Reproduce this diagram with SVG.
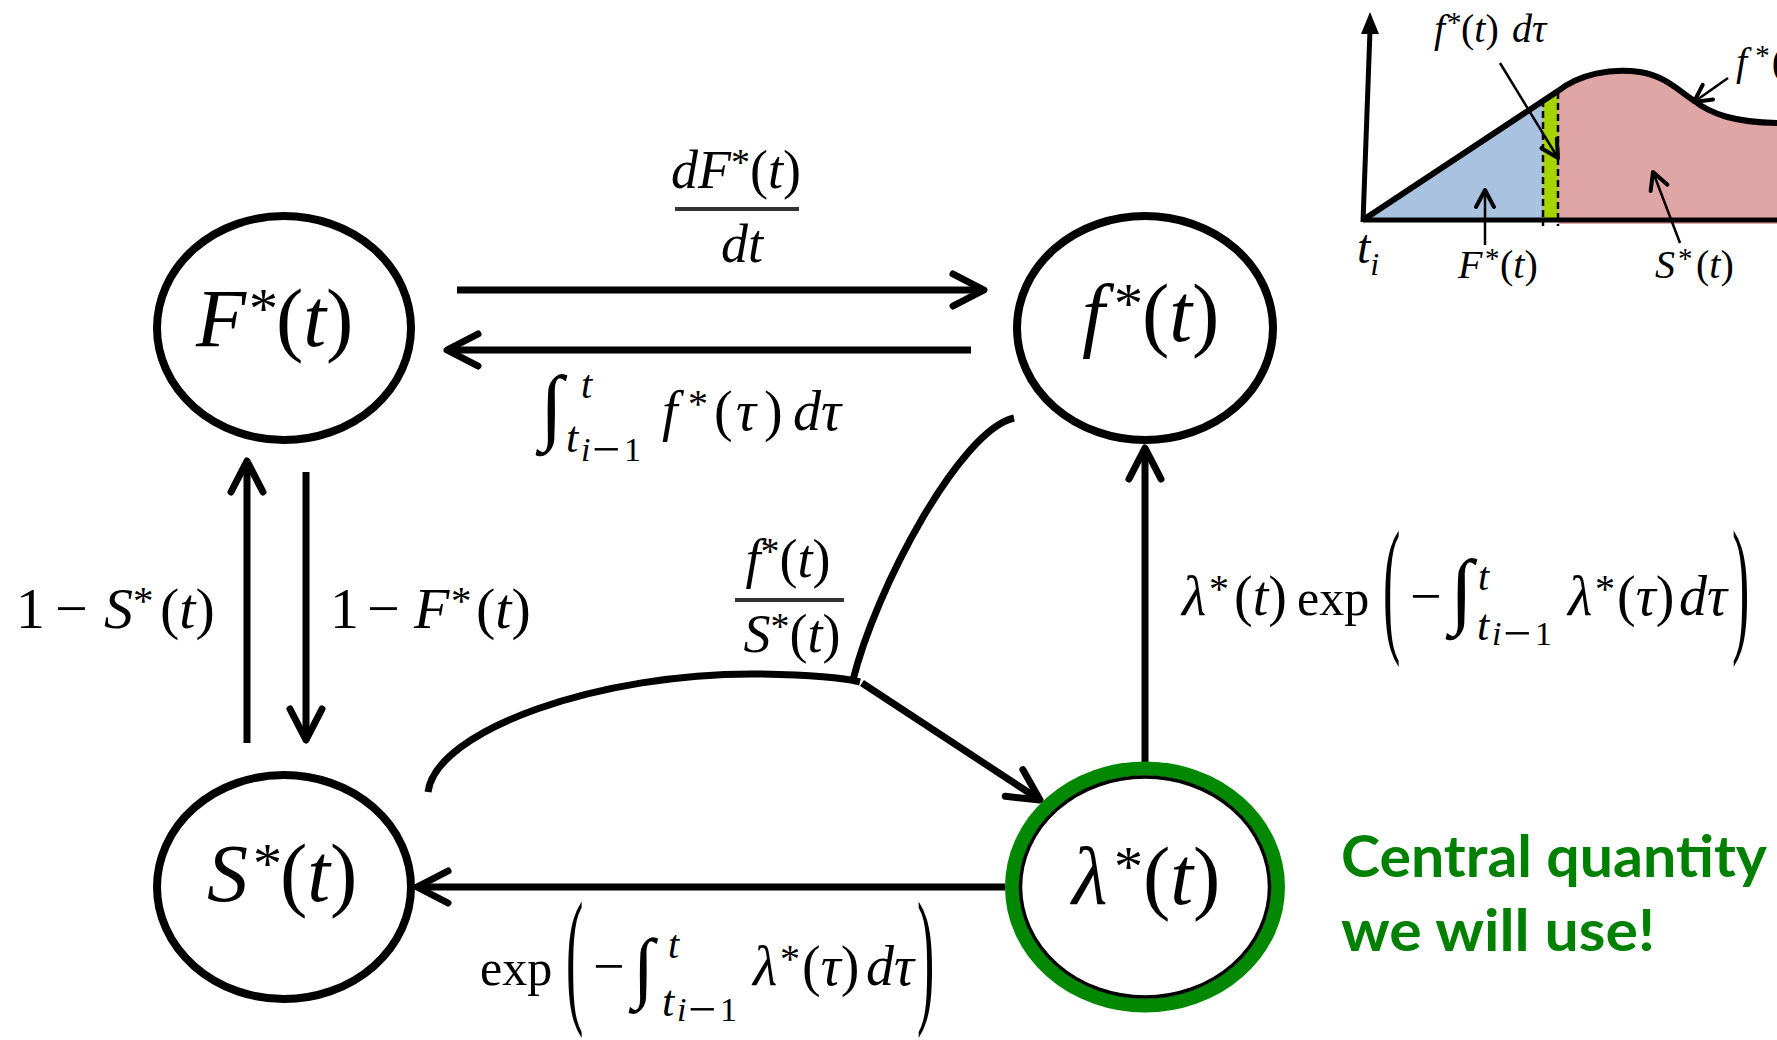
<svg xmlns="http://www.w3.org/2000/svg" width="1777" height="1040" viewBox="0 0 1777 1040">
<defs>
<style>
.m{font-family:"Liberation Serif","DejaVu Serif",serif;fill:#000}
.i{font-style:italic}
.node{fill:#fff;stroke:#000;stroke-width:8}
.edge{fill:none;stroke:#000;stroke-width:7}
.head{fill:none;stroke:#000;stroke-width:7;stroke-linecap:round;stroke-linejoin:round}
.heads{fill:none;stroke:#000;stroke-width:4;stroke-linecap:round;stroke-linejoin:round}
.bar{stroke:#333;stroke-width:4}
.thin{fill:none;stroke:#000;stroke-width:2.5}
.note{font-family:Lato,"Open Sans","Liberation Sans",sans-serif;font-weight:bold;fill:#008000}
</style>
<marker id="ah" markerUnits="userSpaceOnUse" viewBox="-36 -21 42 42" markerWidth="42" markerHeight="42" refX="0" refY="0" orient="auto" overflow="visible">
<path d="M -31 -16 L 0 0 L -31 16" class="head"/>
</marker>
<marker id="ahs" markerUnits="userSpaceOnUse" viewBox="-22 -14 28 28" markerWidth="28" markerHeight="28" refX="0" refY="0" orient="auto" overflow="visible">
<path d="M -17 -9 L 0 0 L -17 9" class="heads"/>
</marker>
</defs>
<rect width="1777" height="1040" fill="#fff"/>

<g id="inset">
<path d="M 1558 91 C 1580 74 1610 68 1640 72 C 1665 76 1678 90 1693 100 C 1712 115 1735 122 1777 123 L 1777 224 L 1558 224 Z" fill="#e0a6a6"/>
<polygon points="1363,220 1543,101 1543,222 1363,222" fill="#a8c2e0"/>
<polygon points="1543,101 1558,91 1558,222 1543,222" fill="#a6d400"/>
<line x1="1543" y1="100" x2="1543" y2="226" stroke="#000" stroke-width="2.5" stroke-dasharray="7 4"/>
<line x1="1558" y1="92" x2="1558" y2="226" stroke="#000" stroke-width="2.5" stroke-dasharray="7 4"/>
<path d="M 1363 220 L 1558 91 C 1580 74 1610 68 1640 72 C 1665 76 1678 90 1693 100 C 1712 115 1735 122 1777 123" fill="none" stroke="#000" stroke-width="6" stroke-linejoin="round"/>
<line x1="1363" y1="220" x2="1777" y2="220" stroke="#000" stroke-width="5"/>
<line x1="1363" y1="222" x2="1370" y2="30" stroke="#000" stroke-width="5"/>
<polygon points="1361,34 1379,34 1370,12" fill="#000"/>
<line x1="1500" y1="63" x2="1558" y2="158" class="thin" marker-end="url(#ahs)"/>
<line x1="1728" y1="78" x2="1694" y2="102" class="thin" marker-end="url(#ahs)"/>
<line x1="1485" y1="245" x2="1485" y2="190" class="thin" marker-end="url(#ahs)"/>
<line x1="1680" y1="243" x2="1653" y2="172" class="thin" marker-end="url(#ahs)"/>
<text class="m" font-size="40" y="42"><tspan x="1434" class="i">f</tspan><tspan x="1447" font-size="29" dy="-10">*</tspan><tspan x="1461" dy="10">(</tspan><tspan class="i">t</tspan>)<tspan x="1512" class="i">dτ</tspan></text>
<text class="m" font-size="40" x="1736" y="75"><tspan class="i">f</tspan><tspan dx="8" font-size="29" dy="-10">*</tspan><tspan dx="2" dy="10">(</tspan><tspan class="i">t</tspan>)</text>
<text class="m" font-size="48" x="1357" y="263"><tspan class="i">t</tspan><tspan class="i" font-size="32" dy="12">i</tspan></text>
<text class="m" font-size="40" y="278"><tspan x="1458" class="i">F</tspan><tspan x="1485" font-size="29" dy="-10">*</tspan><tspan x="1500" dy="10">(</tspan><tspan class="i">t</tspan>)</text>
<text class="m" font-size="40" y="278"><tspan x="1655" class="i">S</tspan><tspan x="1678" font-size="29" dy="-10">*</tspan><tspan x="1696" dy="10">(</tspan><tspan class="i">t</tspan>)</text>
</g>

<g id="connectors">
<line x1="457" y1="290" x2="984" y2="290" class="edge" marker-end="url(#ah)"/>
<line x1="971" y1="350" x2="447" y2="350" class="edge" marker-end="url(#ah)"/>
<line x1="247" y1="743" x2="247" y2="461" class="edge" marker-end="url(#ah)"/>
<line x1="306" y1="472" x2="306" y2="740" class="edge" marker-end="url(#ah)"/>
<line x1="1145" y1="762" x2="1145" y2="448" class="edge" marker-end="url(#ah)"/>
<line x1="1005" y1="887" x2="417" y2="887" class="edge" marker-end="url(#ah)"/>
<path d="M 428 792 C 436 730 600 672 760 674 C 810 675 840 677 860 682" class="edge"/>
<path d="M 853 680 C 875 590 960 430 1014 418" class="edge"/>
<line x1="862" y1="683" x2="1040" y2="800" class="edge" marker-end="url(#ah)"/>
</g>

<g id="edge-labels">
<text class="m" font-size="54" x="736" y="188" text-anchor="middle"><tspan class="i">dF</tspan><tspan font-size="38" dy="-13">*</tspan><tspan dy="13">(</tspan><tspan class="i">t</tspan>)</text>
<line x1="675" y1="209" x2="799" y2="209" class="bar"/>
<text class="m i" font-size="54" x="742" y="262" text-anchor="middle">dt</text>

<text class="m" font-size="56"><tspan x="540" y="434" font-size="84">∫</tspan><tspan x="581" y="398" font-size="40" class="i">t</tspan><tspan x="566" y="452" font-size="44" class="i">t</tspan><tspan x="581" y="461" font-size="34" class="i">i</tspan><tspan x="592" y="466" font-size="50">−</tspan><tspan x="624" y="461" font-size="34">1</tspan><tspan x="662" y="430" class="i">f</tspan><tspan x="688" font-size="40" dy="-13">*</tspan><tspan x="714" dy="13">(</tspan><tspan x="736" class="i">τ</tspan><tspan x="764">)</tspan><tspan x="793" class="i">dτ</tspan></text>

<text class="m" font-size="58" y="628"><tspan x="16">1</tspan><tspan x="55">−</tspan><tspan x="104" class="i">S</tspan><tspan x="133" font-size="41" dy="-14">*</tspan><tspan x="160" dy="14">(</tspan><tspan class="i">t</tspan>)</text>
<text class="m" font-size="58" y="628"><tspan x="330">1</tspan><tspan x="367">−</tspan><tspan x="414" class="i">F</tspan><tspan x="451" font-size="41" dy="-14">*</tspan><tspan x="476" dy="14">(</tspan><tspan class="i">t</tspan>)</text>

<text class="m" font-size="54" x="788" y="577" text-anchor="middle"><tspan class="i">f</tspan><tspan font-size="38" dy="-13">*</tspan><tspan dy="13">(</tspan><tspan class="i">t</tspan>)</text>
<line x1="735" y1="600" x2="844" y2="600" class="bar"/>
<text class="m" font-size="54" x="792" y="652" text-anchor="middle"><tspan class="i">S</tspan><tspan font-size="38" dy="-13">*</tspan><tspan dy="13">(</tspan><tspan class="i">t</tspan>)</text>

<text class="m" font-size="56"><tspan x="1182" y="615" class="i">λ</tspan><tspan x="1209" font-size="40" dy="-13">*</tspan><tspan x="1234" dy="13">(</tspan><tspan class="i">t</tspan>)<tspan x="1297" font-size="50">exp</tspan><tspan x="1410">−</tspan><tspan x="1450" y="618" font-size="84">∫</tspan><tspan x="1478" y="590" font-size="40" class="i">t</tspan><tspan x="1477" y="640" font-size="44" class="i">t</tspan><tspan x="1492" y="645" font-size="34" class="i">i</tspan><tspan x="1503" y="650" font-size="50">−</tspan><tspan x="1535" y="645" font-size="34">1</tspan><tspan x="1568" y="615" class="i">λ</tspan><tspan x="1595" font-size="40" dy="-13">*</tspan><tspan x="1617" dy="13">(</tspan><tspan class="i">τ</tspan>)<tspan x="1679" class="i">dτ</tspan></text>
<text class="m" font-size="52" transform="translate(1383,597) scale(1,2.9)" y="13">(</text>
<text class="m" font-size="52" transform="translate(1732,597) scale(1,2.9)" y="13">)</text>

<text class="m" font-size="56"><tspan x="480" y="985" font-size="50">exp</tspan><tspan x="593" y="985">−</tspan><tspan x="633" y="993" font-size="78">∫</tspan><tspan x="668" y="958" font-size="40" class="i">t</tspan><tspan x="662" y="1016" font-size="44" class="i">t</tspan><tspan x="677" y="1021" font-size="34" class="i">i</tspan><tspan x="688" y="1026" font-size="50">−</tspan><tspan x="720" y="1021" font-size="34">1</tspan><tspan x="753" y="985" class="i">λ</tspan><tspan x="780" font-size="40" dy="-13">*</tspan><tspan x="802" dy="13">(</tspan><tspan class="i">τ</tspan>)<tspan x="866" class="i">dτ</tspan></text>
<text class="m" font-size="52" transform="translate(566,968) scale(1,2.9)" y="13">(</text>
<text class="m" font-size="52" transform="translate(917,968) scale(1,2.9)" y="13">)</text>
</g>

<g id="node-F">
<ellipse cx="284" cy="328" rx="127" ry="112" class="node"/>
<text class="m" font-size="82" y="346"><tspan x="196" class="i">F</tspan><tspan x="249" font-size="58" dy="-18">*</tspan><tspan x="276" dy="18">(</tspan><tspan class="i">t</tspan>)</text>
</g>
<g id="node-f">
<ellipse cx="1145" cy="328" rx="128" ry="112" class="node"/>
<text class="m" font-size="82" y="341"><tspan x="1082" class="i">f</tspan><tspan x="1114" font-size="58" dy="-18">*</tspan><tspan x="1142" dy="18">(</tspan><tspan class="i">t</tspan>)</text>
</g>
<g id="node-S">
<ellipse cx="284" cy="887" rx="127" ry="112" class="node"/>
<text class="m" font-size="82" y="901"><tspan x="207" class="i">S</tspan><tspan x="253" font-size="58" dy="-18">*</tspan><tspan x="280" dy="18">(</tspan><tspan class="i">t</tspan>)</text>
</g>
<g id="node-lambda">
<ellipse cx="1145" cy="887" rx="133" ry="118.5" fill="#fff" stroke="#008800" stroke-width="14"/>
<ellipse cx="1145" cy="887" rx="124.5" ry="110" fill="none" stroke="#000" stroke-width="3.5"/>
<text class="m" font-size="82" y="904"><tspan x="1072" class="i">λ</tspan><tspan x="1114" font-size="58" dy="-18">*</tspan><tspan x="1143" dy="18">(</tspan><tspan class="i">t</tspan>)</text>
</g>

<g id="note">
<text class="note" font-size="57" x="1341" y="877" textLength="426" lengthAdjust="spacingAndGlyphs">Central quantity</text>
<text class="note" font-size="57" x="1341" y="951" textLength="314" lengthAdjust="spacingAndGlyphs">we will use!</text>
</g>
</svg>
